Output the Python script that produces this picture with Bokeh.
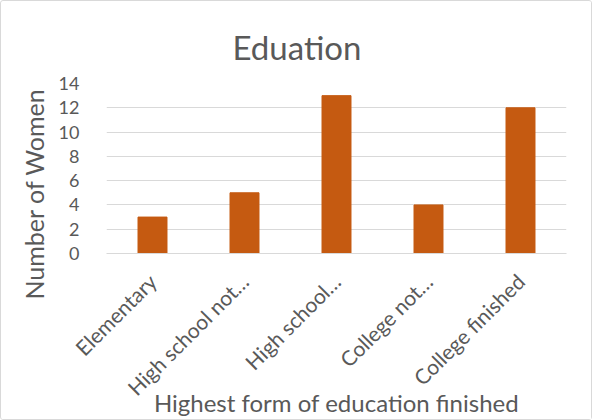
from math import pi
from bokeh.plotting import figure
from bokeh.models import FactorRange, Range1d, Title
from bokeh.embed import file_html
from bokeh.resources import INLINE

categories = ["Elementary", "High school not…", "High school…", "College not…", "College finished"]
women = [3, 5, 13, 4, 12]
y_ticks = [0, 2, 4, 6, 8, 10, 12, 14]

FONT = "Lato"
TXT = "#595959"
GRID = "#d9d9d9"

p = figure(width=592, height=420,
           x_range=FactorRange(factors=categories, range_padding=0),
           y_range=Range1d(0, 14),
           output_backend="svg", toolbar_location=None,
           min_border_left=105, min_border_right=27,
           min_border_top=82, min_border_bottom=168)

p.vbar(x=categories, top=women, width=0.315, color="#C55A11")

p.title.text = "Eduation"
p.title.align = "left"
p.title.offset = 126
p.title.standoff = 33
p.title.text_font = FONT
p.title.text_font_size = "33px"
p.title.text_font_style = "normal"
p.title.text_color = TXT

p.yaxis.ticker = y_ticks
p.yaxis.axis_line_color = None
p.yaxis.major_tick_line_color = None
p.yaxis.minor_tick_line_color = None
p.yaxis.major_label_standoff = 21
p.yaxis.major_label_text_font = FONT
p.yaxis.major_label_text_font_size = "18px"
p.yaxis.major_label_text_color = TXT

p.add_layout(Title(text="Number of Women", align="left", offset=-46, standoff=13,
                   text_font=FONT, text_font_size="25px", text_font_style="normal",
                   text_color=TXT), "left")

p.xaxis.axis_line_color = GRID
p.xaxis.major_tick_line_color = None
p.xaxis.minor_tick_line_color = None
p.xaxis.major_label_orientation = pi / 4
p.xaxis.major_label_standoff = 18
p.xaxis.major_label_text_font = FONT
p.xaxis.major_label_text_font_size = "21px"
p.xaxis.major_label_text_color = TXT
p.xaxis.axis_label = "Highest form of education finished"
p.xaxis.axis_label_text_font = FONT
p.xaxis.axis_label_text_font_size = "24px"
p.xaxis.axis_label_text_font_style = "normal"
p.xaxis.axis_label_text_color = TXT
p.xaxis.axis_label_standoff = -24

p.xgrid.grid_line_color = None
p.ygrid.grid_line_color = GRID
p.ygrid.grid_line_width = 1
p.outline_line_color = None

p.styles = {"border": "1px solid #d9d9d9", "border-radius": "3px", "box-sizing": "border-box"}

open("out.html", "w").write(file_html(p, INLINE))
